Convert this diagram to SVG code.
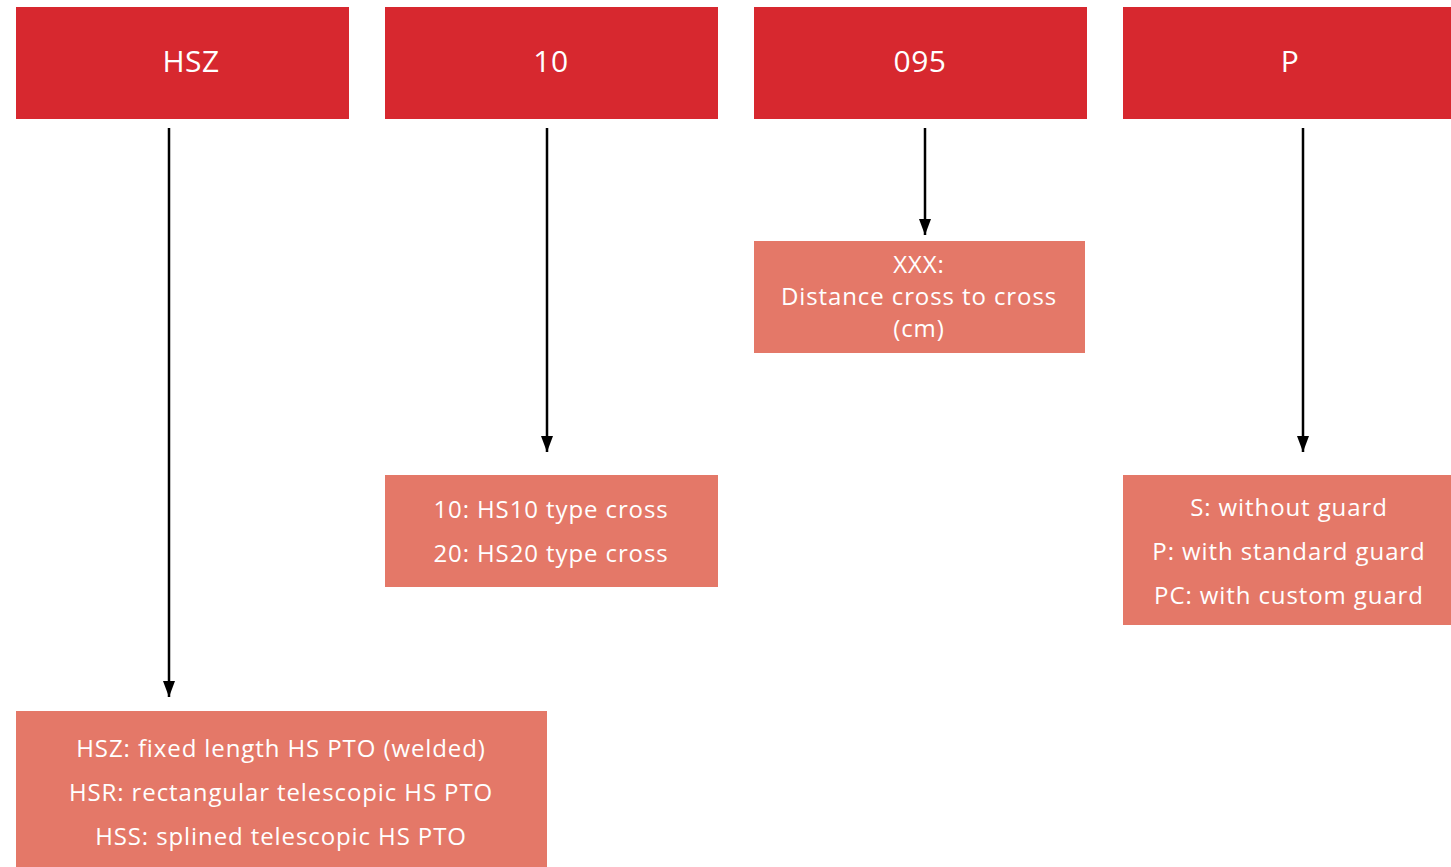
<svg xmlns="http://www.w3.org/2000/svg" width="1451" height="867" viewBox="0 0 1451 867">
<style>
.top{fill:#D7282F}
.opt{fill:#E47868}
.tt{font-family:"Open Sans",sans-serif;font-size:30px;fill:#fff;text-anchor:middle;letter-spacing:0.5px}
.ot{font-family:"Open Sans",sans-serif;font-size:24px;fill:#fff;text-anchor:middle;letter-spacing:0.9px}
.conn line{stroke:#000;stroke-width:2.5;marker-end:url(#ah)}
</style>
<defs>
<marker id="ah" viewBox="0 0 16 12" refX="16" refY="6" markerWidth="16" markerHeight="12" markerUnits="userSpaceOnUse" orient="auto">
<path d="M0,0 L16,6 L0,12 Z" fill="#000"/>
</marker>
</defs>
<rect width="1451" height="867" fill="#fff"/>
<g id="n-hsz"><rect class="top" x="16" y="7" width="333" height="112"/><text class="tt" x="191" y="72">HSZ</text></g>
<g id="n-10"><rect class="top" x="385" y="7" width="333" height="112"/><text class="tt" x="551" y="72">10</text></g>
<g id="n-095"><rect class="top" x="754" y="7" width="333" height="112"/><text class="tt" x="920" y="72">095</text></g>
<g id="n-p"><rect class="top" x="1123" y="7" width="328" height="112"/><text class="tt" x="1290" y="72">P</text></g>
<g id="o-hsz"><rect class="opt" x="16" y="711" width="531" height="156"/>
<text class="ot" x="281" y="757">HSZ: fixed length HS PTO (welded)</text>
<text class="ot" x="281" y="801">HSR: rectangular telescopic HS PTO</text>
<text class="ot" x="281" y="845">HSS: splined telescopic HS PTO</text></g>
<g id="o-10"><rect class="opt" x="385" y="475" width="333" height="112"/>
<text class="ot" x="551" y="518">10: HS10 type cross</text>
<text class="ot" x="551" y="562">20: HS20 type cross</text></g>
<g id="o-095"><rect class="opt" x="754" y="241" width="331" height="112"/>
<text class="ot" x="919" y="273">XXX:</text>
<text class="ot" x="919" y="305">Distance cross to cross</text>
<text class="ot" x="919" y="337">(cm)</text></g>
<g id="o-p"><rect class="opt" x="1123" y="475" width="328" height="150"/>
<text class="ot" x="1289" y="516">S: without guard</text>
<text class="ot" x="1289" y="560">P: with standard guard</text>
<text class="ot" x="1289" y="604">PC: with custom guard</text></g>
<g id="connectors" class="conn">
<line x1="169" y1="128" x2="169" y2="697"/>
<line x1="547" y1="128" x2="547" y2="452"/>
<line x1="925" y1="128" x2="925" y2="235"/>
<line x1="1303" y1="128" x2="1303" y2="452"/>
</g>
</svg>
